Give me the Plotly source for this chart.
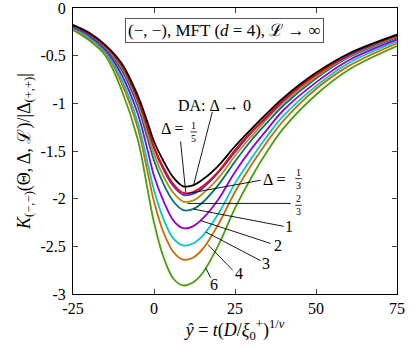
import plotly.graph_objects as go

# y-hat sample positions
y_hat = [-25, -20, -15, -10, -5, -2, 0, 3, 6, 9, 12, 15, 20, 25, 30, 35, 40, 50, 60, 75]

# scaled Casimir force for the different Delta values
k_da = [-0.18, -0.26, -0.39, -0.58, -0.92, -1.20, -1.40, -1.61, -1.78, -1.87, -1.86, -1.80,
        -1.65, -1.45, -1.27, -1.10, -0.94, -0.68, -0.48, -0.28]
k_1_5 = [-0.18, -0.27, -0.40, -0.60, -0.95, -1.25, -1.46, -1.68, -1.85, -1.94, -1.93, -1.87,
         -1.71, -1.49, -1.30, -1.13, -0.96, -0.70, -0.49, -0.29]
k_1_3 = [-0.18, -0.27, -0.40, -0.60, -0.96, -1.26, -1.47, -1.70, -1.87, -1.96, -1.95, -1.89,
         -1.72, -1.51, -1.31, -1.14, -0.97, -0.70, -0.50, -0.29]
k_2_3 = [-0.19, -0.27, -0.41, -0.62, -0.99, -1.31, -1.53, -1.77, -1.94, -2.03, -2.02, -1.95,
         -1.78, -1.55, -1.35, -1.16, -0.99, -0.72, -0.51, -0.30]
k_1 = [-0.19, -0.28, -0.42, -0.65, -1.03, -1.37, -1.60, -1.85, -2.03, -2.12, -2.11, -2.04,
       -1.85, -1.61, -1.39, -1.20, -1.02, -0.74, -0.52, -0.31]
k_2 = [-0.20, -0.29, -0.44, -0.70, -1.11, -1.49, -1.76, -2.03, -2.23, -2.31, -2.29, -2.21,
       -2.00, -1.72, -1.48, -1.27, -1.07, -0.78, -0.55, -0.33]
k_3 = [-0.21, -0.31, -0.46, -0.75, -1.20, -1.62, -1.91, -2.22, -2.42, -2.49, -2.47, -2.39,
       -2.15, -1.84, -1.58, -1.34, -1.13, -0.82, -0.58, -0.35]
k_4 = [-0.22, -0.32, -0.47, -0.79, -1.26, -1.72, -2.03, -2.36, -2.56, -2.64, -2.62, -2.53,
       -2.26, -1.93, -1.65, -1.40, -1.18, -0.85, -0.61, -0.37]
k_6 = [-0.23, -0.34, -0.50, -0.86, -1.38, -1.90, -2.25, -2.62, -2.84, -2.91, -2.88, -2.78,
       -2.48, -2.10, -1.78, -1.50, -1.26, -0.91, -0.65, -0.40]

x_ticks = [-25, 0, 25, 50, 75]
x_ticktext = ['-25', '0', '25', '50', '75']
y_ticks = [0, -0.5, -1, -1.5, -2, -2.5, -3]
y_ticktext = ['0', '-0.5', '-1', '-1.5', '-2', '-2.5', '-3']

# deepest curves first so the black DA curve ends up on top
series = [
    (k_6, '#4a9e0c'),
    (k_4, '#cc6a00'),
    (k_3, '#00c8c8'),
    (k_2, '#9400d3'),
    (k_1, '#007373'),
    (k_2_3, '#bb8c0c'),
    (k_1_3, '#3333ff'),
    (k_1_5, '#ff0000'),
    (k_da, '#000000'),
]

# label text, text position, leader line start (on curve) and end
labels = [
    ('DA: Δ → 0', 18.7, -1.02, 12.2, -1.86, 18.0, -1.09),
    ('Δ =', 5.6, -1.26, 9.8, -1.936, 8.2, -1.40),
    ('Δ =', 37.0, -1.80, 10.3, -1.946, 32.9, -1.807),
    ('', 0, 0, 10.3, -2.05, 42.2, -2.05),
    ('1', 41.6, -2.29, 12.3, -2.11, 40.0, -2.29),
    ('2', 38.3, -2.49, 14.4, -2.23, 36.0, -2.47),
    ('3', 34.6, -2.68, 16.0, -2.35, 32.9, -2.65),
    ('4', 26.3, -2.79, 16.6, -2.48, 24.3, -2.75),
    ('6', 18.6, -2.90, 16.0, -2.73, 17.5, -2.83),
]

# stacked fractions: numerator, denominator, centre x, bar y
fractions = [
    ('1', '5', 12.25, -1.30),
    ('1', '3', 44.6, -1.79),
    ('2', '3', 44.6, -2.07),
]

font_family = 'Liberation Serif, Times New Roman, serif'

fig = go.Figure()

for values, color in series:
    fig.add_trace(go.Scatter(x=y_hat, y=values, mode='lines',
                             line=dict(color=color, width=1.8, shape='spline', smoothing=1.0),
                             showlegend=False, hoverinfo='skip'))

for text, tx, ty, x0, y0, x1, y1 in labels:
    fig.add_shape(type='line', xref='x', yref='y', x0=x0, y0=y0, x1=x1, y1=y1,
                  line=dict(color='black', width=0.9))
    if text:
        fig.add_annotation(x=tx, y=ty, xref='x', yref='y', text=text, showarrow=False,
                           font=dict(size=16, color='black', family=font_family))

for num, den, fx, fy in fractions:
    fig.add_shape(type='line', xref='x', yref='y', x0=fx - 1.0, y0=fy, x1=fx + 1.0, y1=fy,
                  line=dict(color='black', width=0.8))
    fig.add_annotation(x=fx, y=fy, xref='x', yref='y', text=num, showarrow=False,
                       yanchor='bottom', borderpad=0,
                       font=dict(size=10, color='black', family=font_family))
    fig.add_annotation(x=fx, y=fy, xref='x', yref='y', text=den, showarrow=False,
                       yanchor='top', borderpad=0,
                       font=dict(size=10, color='black', family=font_family))

# header box
fig.add_annotation(x=0.469, y=0.92, xref='paper', yref='paper',
                   xanchor='center', yanchor='middle',
                   text='(−, −), MFT (<i>d</i> = 4), ℒ → ∞', showarrow=False,
                   font=dict(size=17, color='black', family=font_family),
                   bordercolor='#555555', borderwidth=1, borderpad=2, bgcolor='white')

fig.update_layout(
    width=409, height=348,
    margin=dict(l=73, r=12, t=8, b=54),
    plot_bgcolor='white', paper_bgcolor='white',
    font=dict(family=font_family, size=16, color='black'),
    showlegend=False,
)

fig.update_xaxes(range=[-25, 75], tickvals=x_ticks, ticktext=x_ticktext, automargin=False,
                 ticks='inside', ticklen=5, showline=True, linecolor='black', linewidth=1,
                 mirror='ticks', showgrid=False, zeroline=False, ticklabeloverflow='allow',
                 title=dict(text='<i>ŷ</i> = <i>t</i>(<i>D</i>/<i>ξ</i><sub>0</sub><sup>+</sup>)<sup>1/<i>ν</i></sup>',
                            standoff=4, font=dict(size=18)))
fig.update_yaxes(range=[-3, 0], tickvals=y_ticks, ticktext=y_ticktext, automargin=False,
                 ticks='inside', ticklen=5, showline=True, linecolor='black', linewidth=1,
                 mirror='ticks', showgrid=False, zeroline=False, ticklabelstandoff=3,
                 ticklabeloverflow='allow',
                 title=dict(text='<i>K</i><sub>(−,−)</sub>(Θ, Δ, ℒ)/|Δ<sub>(+,+)</sub>|',
                            standoff=5, font=dict(size=18)))

# drop the default page margin so the figure sits at the window's top-left corner
fig.write_html('out.html', config={'displayModeBar': False},
               post_script="document.body.style.margin = '0';")
